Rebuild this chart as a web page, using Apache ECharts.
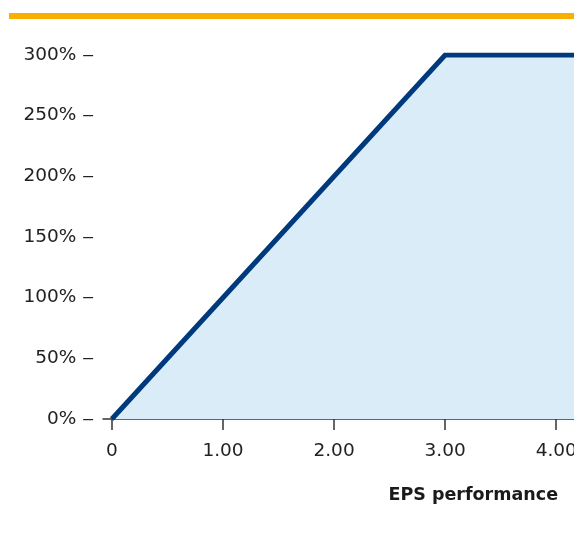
<!DOCTYPE html>
<html>
<head>
<meta charset="utf-8">
<script src="https://cdn.jsdelivr.net/npm/echarts@6/dist/echarts.min.js"></script>
<style>
  html, body { margin: 0; padding: 0; background: #fff; }
  #chart { width: 574px; height: 542px; }
</style>
</head>
<body>
<div id="chart"></div>
<script>
// Payout curve: vesting percentage against EPS performance
const epsPoints = [0, 3, 4.2];
const vestingPct = [0, 300, 300];
const xTickValues = [0, 1, 2, 3, 4];
const xTickLabels = ['0', '1.00', '2.00', '3.00', '4.00'];
const yTickSuffix = '% \u2012';
const xAxisTitle = 'EPS performance';

const FONT = '"DejaVu Sans", "Noto Sans", sans-serif';

const chart = echarts.init(document.getElementById('chart'), null, { renderer: 'canvas' });

chart.setOption({
  animation: false,
  backgroundColor: '#ffffff',
  title: {
    text: xAxisTitle,
    right: 11,
    top: 481,
    textStyle: { fontFamily: FONT, fontSize: 17.5, fontWeight: 'bold', color: '#1a1a1a' }
  },
  graphic: [{
    type: 'rect',
    left: 9,
    top: 13,
    shape: { width: 565, height: 6 },
    style: { fill: '#f9b000' },
    silent: true
  }],
  grid: {
    left: 103, right: 0, top: 55, bottom: 123,
    containLabel: false,
    outerBoundsMode: 'none'
  },
  xAxis: {
    type: 'value',
    min: -0.08,
    max: 4.16,
    splitLine: { show: false },
    axisLine: { show: true, lineStyle: { color: '#333', width: 1.5 } },
    axisTick: {
      show: true,
      length: 11,
      inside: false,
      customValues: xTickValues,
      lineStyle: { color: '#333', width: 1.5 }
    },
    axisLabel: {
      customValues: xTickValues,
      margin: 23,
      fontFamily: FONT,
      fontSize: 18.5,
      color: '#222',
      hideOverlap: false,
      formatter: v => xTickLabels[xTickValues.indexOf(Math.round(v))] ?? ''
    }
  },
  yAxis: {
    type: 'value',
    min: 0,
    max: 300,
    interval: 50,
    splitLine: { show: false },
    axisLine: { show: false },
    axisTick: { show: false },
    axisLabel: {
      margin: 9,
      fontFamily: FONT,
      fontSize: 18.5,
      color: '#222',
      formatter: v => v + yTickSuffix
    }
  },
  series: [{
    type: 'line',
    data: epsPoints.map((x, i) => [x, vestingPct[i]]),
    symbol: 'none',
    lineStyle: { color: '#003a7d', width: 5, join: 'miter', cap: 'butt' },
    areaStyle: { color: '#dbecf9', opacity: 1 },
    z: 1
  }]
});
</script>
</body>
</html>
